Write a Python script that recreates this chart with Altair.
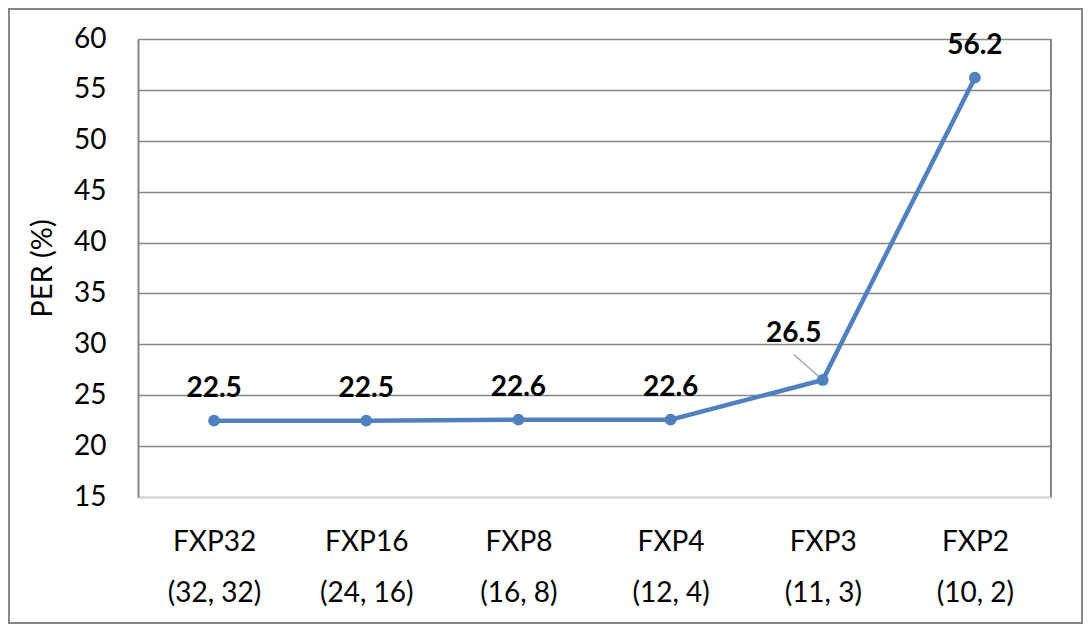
import altair as alt
import pandas as pd

formats = ["FXP32", "FXP16", "FXP8", "FXP4", "FXP3", "FXP2"]
bit_pairs = ["(32, 32)", "(24, 16)", "(16, 8)", "(12, 4)", "(11, 3)", "(10, 2)"]
per = [22.5, 22.5, 22.6, 22.6, 26.5, 56.2]

df = pd.DataFrame({"idx": list(range(len(formats))), "fmt": formats, "bits": bit_pairs, "per": per})

W, H = 913, 458
FONT = "Lato"
GRID = "#868686"
BLUE = "#4f81bd"

label_expr = "[" + ",".join(f"['{f}','{b}']" for f, b in zip(formats, bit_pairs)) + "][datum.value]"

x = alt.X("idx:Q",
          scale=alt.Scale(domain=[-0.5, len(formats) - 0.5], nice=False, zero=False),
          axis=alt.Axis(values=list(range(len(formats))), labelExpr=label_expr, title=None,
                        grid=False, ticks=False, domainColor="#d9d9d9", domainWidth=2,
                        labelFont=FONT, labelFontSize=28, labelColor="black",
                        labelLineHeight=51, labelPadding=31, labelBaseline="top"))
y = alt.Y("per:Q",
          scale=alt.Scale(domain=[15, 60], nice=False, zero=False),
          axis=alt.Axis(values=list(range(15, 61, 5)), title="PER (%)", grid=True,
                        gridColor=GRID, gridWidth=1.5, ticks=False,
                        domainColor=GRID, domainWidth=2,
                        labelFont=FONT, labelFontSize=28, labelColor="black", labelPadding=32,
                        titleFont=FONT, titleFontSize=29, titleFontWeight="normal",
                        titleColor="black", titlePadding=16))

base = alt.Chart(df)

line = base.mark_line(color=BLUE, strokeWidth=4.5).encode(x=x, y=y)
pts = base.mark_point(filled=True, color=BLUE, size=140, opacity=1).encode(x=x, y=y)

labels_main = base.transform_filter("datum.idx != 4").mark_text(
    font=FONT, fontSize=28, fontWeight="bold", color="black", dy=-24, baseline="alphabetic"
).encode(x=x, y=y, text=alt.Text("per:Q", format=".1f"))

labels_off = base.transform_filter("datum.idx == 4").mark_text(
    font=FONT, fontSize=28, fontWeight="bold", color="black", dx=-29, dy=-38, baseline="alphabetic"
).encode(x=x, y=y, text=alt.Text("per:Q", format=".1f"))

leader = base.transform_filter("datum.idx == 4").transform_calculate(
    x2="datum.idx - 0.19", y2="datum.per + 2.5"
).mark_rule(color="#a6a6a6", strokeWidth=1.5).encode(x=x, y=y, x2="x2:Q", y2="y2:Q")

frame_df = pd.DataFrame({"a": [0]})
right_border = alt.Chart(frame_df).mark_rule(color=GRID, strokeWidth=2).encode(
    x=alt.value(W), y=alt.value(0), y2=alt.value(H))
outer = alt.Chart(frame_df).mark_rect(fillOpacity=0, stroke=GRID, strokeWidth=2).encode(
    x=alt.value(-129), x2=alt.value(W + 31), y=alt.value(-30), y2=alt.value(H + 126))

chart = alt.layer(right_border, outer, leader, line, pts, labels_main, labels_off).properties(
    width=W, height=H,
    autosize=alt.AutoSizeParams(type="none"),
    padding={"left": 130, "top": 31, "right": 32, "bottom": 127},
).configure_view(strokeWidth=0).configure(background="white")

chart.save("out.html", embed_options={"renderer": "svg", "actions": False})
